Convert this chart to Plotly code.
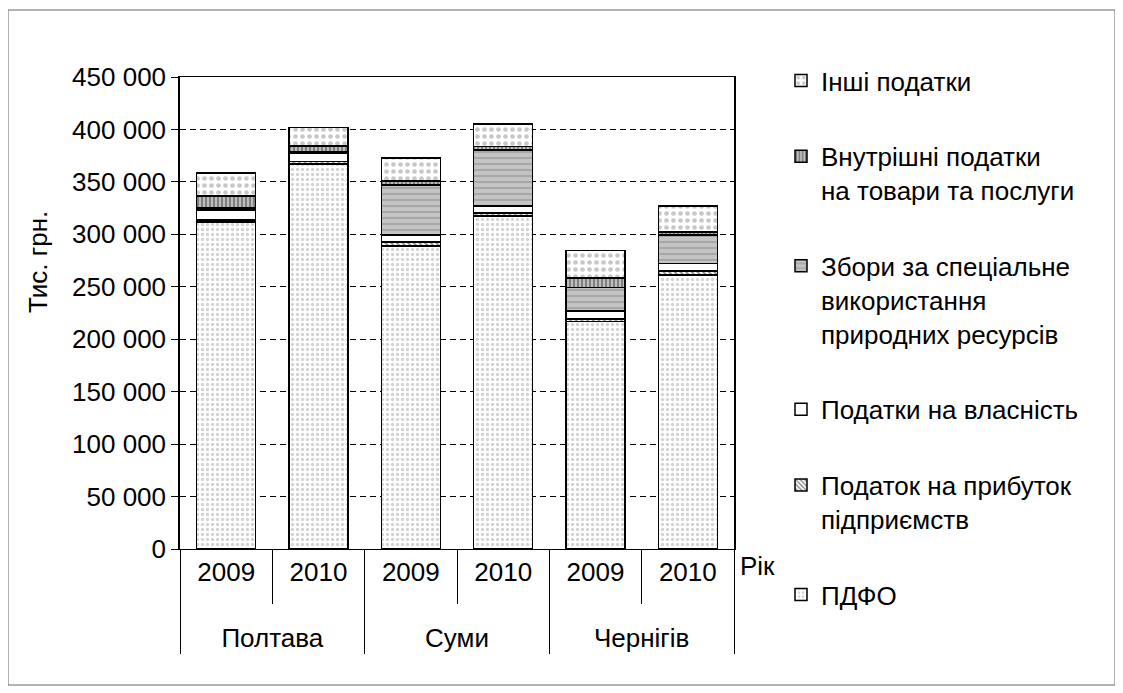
import plotly.graph_objects as go

cities = ["Полтава", "Полтава", "Суми", "Суми", "Чернігів", "Чернігів"]
years = ["2009", "2010", "2009", "2010", "2009", "2010"]

pdfo = [311700, 367000, 288700, 317400, 217000, 261000]
prybutok = [2000, 2500, 4000, 3000, 2500, 4000]
vlasnist = [9500, 8000, 6700, 6700, 7600, 7300]
zbory = [2000, 1500, 47800, 53200, 22000, 27000]
vnutr = [11500, 5000, 3500, 3500, 9500, 3000]
inshi = [22000, 18000, 22000, 21300, 25800, 24800]

series = [
    ("ПДФО", pdfo, dict(shape=".", fgcolor="#a8a8a8", bgcolor="#ffffff", size=5, solidity=0.35)),
    ("Податок на прибуток<br>підприємств", prybutok, dict(shape="\\", fgcolor="#000000", bgcolor="#ffffff", size=4, solidity=0.4)),
    ("Податки на власність", vlasnist, dict(shape="", bgcolor="#ffffff")),
    ("Збори за спеціальне<br>використання<br>природних ресурсів", zbory, dict(shape="-", fgcolor="#8a8a8a", bgcolor="#c4c4c4", size=6, solidity=0.35)),
    ("Внутрішні податки<br>на товари та послуги", vnutr, dict(shape="|", fgcolor="#333333", bgcolor="#bdbdbd", size=4, solidity=0.45)),
    ("Інші податки", inshi, dict(shape=".", fgcolor="#909090", bgcolor="#ffffff", size=7, solidity=0.35)),
]

FONT = "Liberation Sans, Arial, sans-serif"
FS = 26

fig = go.Figure()
n = len(series)
for i, (name, vals, pat) in enumerate(series):
    color = pat.get("bgcolor", "#ffffff")
    fig.add_trace(go.Bar(
        x=[["<br>" + c for c in cities], years], y=vals, name=name,
        legendgroup="g%d" % i, legendrank=(n - i) * 10,
        marker=dict(color=color, line=dict(color="#000000", width=1.5), pattern=pat),
    ))

# plot area in screenshot coordinates (page has an 8px body margin)
OFF = 8
W0, W1, H0, H1 = 180, 734, 77, 549
pw, ph = W1 - W0, H1 - H0

def px(x):
    return (x - W0) / pw

def py(y):
    return (H1 - y) / ph

fig.update_layout(
    width=1123, height=693,
    margin=dict(l=W0 - OFF, r=1123 - (W1 - OFF), t=H0 - OFF, b=693 - (H1 - OFF), autoexpand=False),
    paper_bgcolor="white", plot_bgcolor="white",
    barmode="stack", bargap=0.36,
    separators=", ",
    font=dict(family=FONT, size=FS, color="#000000"),
    showlegend=True,
    legend=dict(
        x=px(781), y=py(57), xanchor="left", yanchor="top",
        traceorder="grouped", tracegroupgap=39, maxheight=680, valign="top",
        font=dict(family=FONT, size=FS), bgcolor="rgba(0,0,0,0)",
    ),
    xaxis=dict(
        showline=True, linecolor="#000000", linewidth=1, mirror=True,
        ticks="outside", tickson="boundaries", ticklen=54, tickcolor="#000000",
        showdividers=True, dividercolor="#000000", dividerwidth=1,
        showgrid=False, tickfont=dict(family=FONT, size=FS),
    ),
    yaxis=dict(
        range=[0, 450000], dtick=50000, tickformat=",d",
        showline=True, linecolor="#000000", linewidth=1.5, mirror=True,
        ticks="outside", ticklen=7, tickcolor="#000000",
        showgrid=True, gridcolor="#000000", gridwidth=1, griddash="6px,4px",
        zeroline=False, tickfont=dict(family=FONT, size=FS),
    ),
    shapes=[dict(type="rect", xref="paper", yref="paper",
                 x0=px(8), x1=px(1115), y0=py(685), y1=py(10),
                 line=dict(color="#666666", width=1), fillcolor="rgba(0,0,0,0)", layer="below")],
    annotations=[
        dict(text="Рік", xref="paper", yref="paper", x=1.0, y=0,
             xanchor="left", yanchor="top", xshift=4, showarrow=False,
             font=dict(family=FONT, size=FS)),
        dict(text="Тис. грн.", xref="paper", yref="paper", x=px(38), y=py(262),
             xanchor="center", yanchor="middle", textangle=-90, showarrow=False,
             font=dict(family=FONT, size=FS)),
    ],
)

fig.write_html("out.html")
